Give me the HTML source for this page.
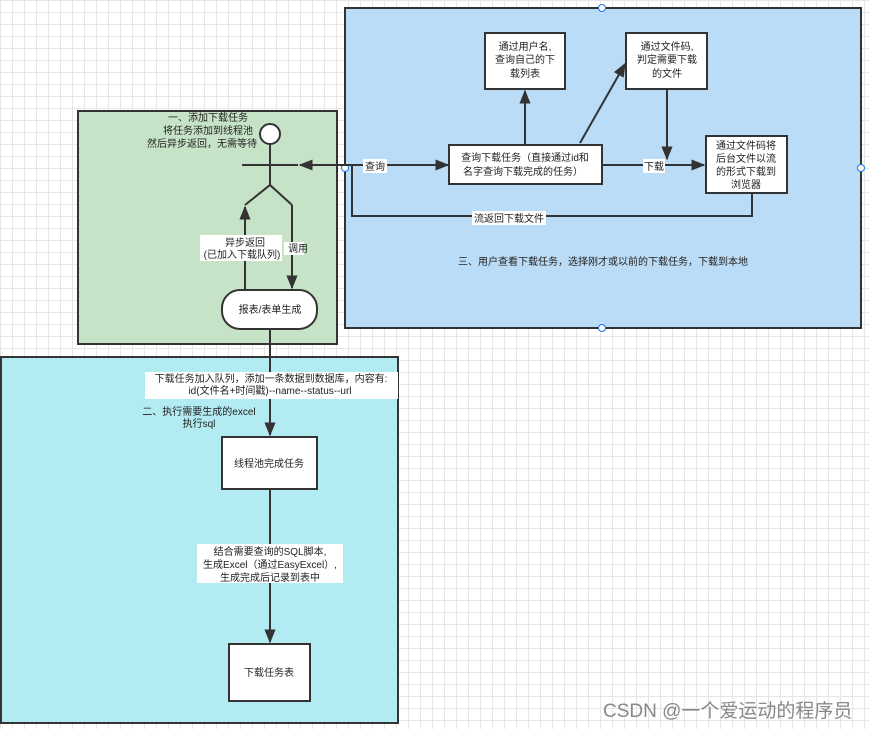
<!DOCTYPE html>
<html><head><meta charset="utf-8"><style>
body{margin:0;width:869px;height:729px;overflow:hidden;background:#fff;
background-image:linear-gradient(#e6e6e6 1px,transparent 1px),linear-gradient(90deg,#e6e6e6 1px,transparent 1px);background-size:12px 12px;}
svg text{font-family:"Liberation Sans","Noto Sans CJK SC",sans-serif;font-size:10px;fill:#222;}
</style></head><body>
<svg width="869" height="729" xmlns="http://www.w3.org/2000/svg" style="position:absolute;left:0;top:0">
<defs><marker id="a" viewBox="0 0 10 10" refX="9" refY="5" markerWidth="7" markerHeight="7" orient="auto"><path d="M0,1 L10,5 L0,9z" fill="#333"/></marker></defs>
<g stroke="#333" stroke-width="2">
<rect x="78" y="111" width="259" height="233" fill="#c7e3c7"/>
<rect x="345" y="8" width="516" height="320" fill="#badcf7"/>
<rect x="1" y="357" width="397" height="366" fill="#b2ebf2"/>
</g>
<g fill="#fff" stroke="#1a73e8" stroke-width="1"><circle cx="345" cy="168" r="3.5"/><circle cx="602" cy="8" r="3.5"/><circle cx="861" cy="168" r="3.5"/><circle cx="602" cy="328" r="3.5"/></g>
<g stroke="#333" stroke-width="2" fill="none">
<circle cx="270" cy="134" r="10" fill="#fff"/>
<line x1="270" y1="144" x2="270" y2="185"/>
<line x1="242" y1="165" x2="298" y2="165"/>
<polyline points="245,205 270,185 292,205"/>
<line x1="245" y1="290" x2="245" y2="207" marker-end="url(#a)"/>
<line x1="292" y1="205" x2="292" y2="288" marker-end="url(#a)"/>
<line x1="352" y1="165" x2="300" y2="165" marker-end="url(#a)"/>
<line x1="345" y1="165" x2="448" y2="165" marker-end="url(#a)"/>
<polyline points="752,193 752,216 352,216 352,165"/>
<line x1="525" y1="145" x2="525" y2="91" marker-end="url(#a)"/>
<line x1="580" y1="143" x2="625" y2="64" marker-end="url(#a)"/>
<line x1="667" y1="89" x2="667" y2="159" marker-end="url(#a)"/>
<line x1="602" y1="165" x2="704" y2="165" marker-end="url(#a)"/>
<line x1="270" y1="329" x2="270" y2="435" marker-end="url(#a)"/>
<line x1="270" y1="489" x2="270" y2="642" marker-end="url(#a)"/>
</g>
<g stroke="#333" stroke-width="2" fill="#fff">
<rect x="222" y="290" width="95" height="39" rx="18"/>
<rect x="449" y="145" width="153" height="39"/>
<rect x="485" y="33" width="80" height="56"/>
<rect x="626" y="33" width="81" height="56"/>
<rect x="706" y="136" width="81" height="57"/>
<rect x="222" y="437" width="95" height="52"/>
<rect x="229" y="644" width="81" height="57"/>
</g>
<g fill="#fff">
<rect x="284" y="242" width="20" height="13"/>
<rect x="200" y="235" width="82" height="26"/>
<rect x="363" y="159" width="24" height="14"/>
<rect x="643" y="159" width="22" height="14"/>
<rect x="472" y="211" width="74" height="14"/>
<rect x="145" y="372" width="253" height="27"/>
<rect x="197" y="544" width="146" height="39"/>
</g>
<g text-anchor="middle">
<text x="208" y="121">一、添加下载任务</text>
<text x="208" y="134">将任务添加到线程池</text>
<text x="202" y="147">然后异步返回，无需等待</text>
<text x="298" y="252">调用</text>
<rect x="200" y="235" width="82" height="26" fill="#fff"/>
<text x="245" y="246">异步返回</text>
<text x="242" y="258">(已加入下载队列)</text>
<text x="270" y="313">报表/表单生成</text>
<text x="375" y="170">查询</text>
<text x="654" y="170">下载</text>
<text x="509" y="222">流返回下载文件</text>
<text x="525" y="161">查询下载任务（直接通过id和</text>
<text x="523" y="175">名字查询下载完成的任务）</text>
<text x="525" y="50">通过用户名,</text>
<text x="525" y="63">查询自己的下</text>
<text x="525" y="77">载列表</text>
<text x="667" y="50">通过文件码,</text>
<text x="667" y="63">判定需要下载</text>
<text x="667" y="77">的文件</text>
<text x="746" y="149">通过文件码将</text>
<text x="746" y="162">后台文件以流</text>
<text x="746" y="175">的形式下载到</text>
<text x="746" y="188">浏览器</text>
<text x="603" y="265">三、用户查看下载任务，选择刚才或以前的下载任务，下载到本地</text>
<text x="271" y="382">下载任务加入队列，添加一条数据到数据库，内容有:</text>
<text x="270" y="394">id(文件名+时间戳)--name--status--url</text>
<text x="199" y="415">二、执行需要生成的excel</text>
<text x="199" y="427">执行sql</text>
<text x="269" y="467">线程池完成任务</text>
<text x="270" y="555">结合需要查询的SQL脚本,</text>
<text x="270" y="568">生成Excel（通过EasyExcel）,</text>
<text x="270" y="581">生成完成后记录到表中</text>
<text x="269" y="676">下载任务表</text>
</g>
<text x="603" y="717" style="font-size:19px;fill:#888">CSDN @一个爱运动的程序员</text>
</svg>
</body></html>
